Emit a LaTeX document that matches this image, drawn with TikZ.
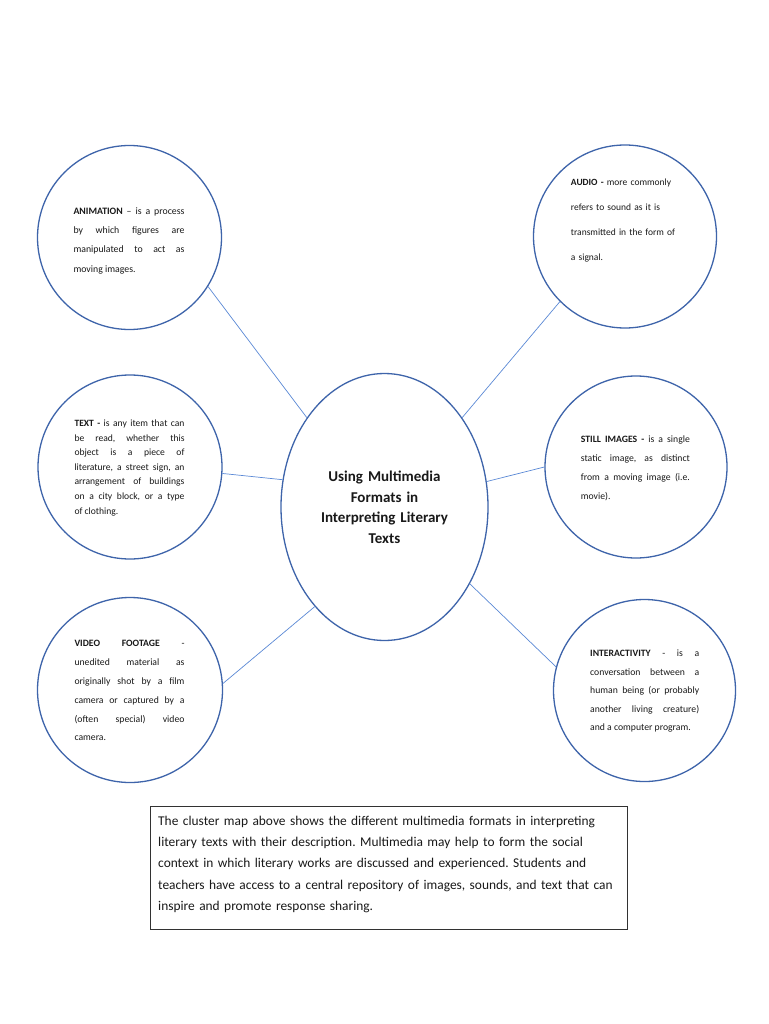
\documentclass[tikz,border=0pt]{standalone}
\usepackage{fontspec}
\setmainfont{Carlito}
\frenchspacing
\definecolor{circblue}{RGB}{62,100,170}
\definecolor{lineblue}{RGB}{91,137,214}
\definecolor{boxgray}{RGB}{50,50,50}
\definecolor{txt}{RGB}{25,25,25}
\usetikzlibrary{shapes.geometric}
\tikzset{
  bubble/.style={circle, draw=circblue, line width=1.3pt, inner sep=0pt, fill=white},
  hub/.style={ellipse, draw=circblue, line width=1.3pt, inner sep=0pt, fill=white},
  desc/.style={anchor=base west, inner sep=0pt, text width=#1, align=justify, text=txt},
  link/.style={draw=lineblue, line width=0.7pt},
}
\begin{document}
\begin{tikzpicture}[x=1pt,y=-1pt]
\useasboundingbox (0,0) rectangle (768,1024);
\fill[white] (0,0) rectangle (768,1024);

% bubbles
\node[bubble, minimum size=184pt] (anim) at (129.5,237.5) {};
\node[bubble, minimum size=183pt] (audio) at (625,236.5) {};
\node[bubble, minimum size=184pt] (text) at (130,467) {};
\node[bubble, minimum size=182pt] (still) at (636,467) {};
\node[bubble, minimum size=185pt] (video) at (130,690) {};
\node[bubble, minimum size=182pt] (inter) at (644.5,690.5) {};
\node[hub, minimum width=207pt, minimum height=267pt] (ctr) at (384.5,507) {};

% connectors
\draw[link] (anim.-32) -- (ctr.131);
\draw[link] (audio.225) -- (ctr.49);
\draw[link] (text.-4) -- (ctr.165);
\draw[link] (still.180) -- (ctr.14);
\draw[link] (video.4) -- (ctr.-125);
\draw[link] (inter.165) -- (ctr.-42);

% descriptions
\node[desc=111pt, font=\fontsize{9.8}{19.3}\selectfont] (animt) at (73.3,214.2) {%
\textbf{ANIMATION} – is a process\linebreak by which figures are\linebreak manipulated to act as\linebreak moving images.};

\node[anchor=base west, inner sep=0pt, text width=130pt, align=left, text=txt, font=\fontsize{9.5}{25}\selectfont] (audiot) at (570.7,185.4) {%
\textbf{AUDIO -} more commonly\\ refers to sound as it is\\ transmitted in the form of\\ a signal.};

\node[desc=110pt, font=\fontsize{9.6}{14.6}\selectfont] (textt) at (74.3,426.4) {%
\textbf{TEXT -} is any item that can\linebreak be read, whether this\linebreak object is a piece of\linebreak literature, a street sign, an\linebreak arrangement of buildings\linebreak on a city block, or a type\linebreak of clothing.};

\node[desc=109pt, font=\fontsize{9.7}{18.9}\selectfont] (stillt) at (580.7,442.4) {%
\textbf{STILL IMAGES -} is a single\linebreak static image, as distinct\linebreak from a moving image (i.e.\linebreak movie).};

\node[desc=110pt, font=\fontsize{9.7}{18.9}\selectfont] (videot) at (74.3,646.4) {%
\textbf{VIDEO FOOTAGE} -\linebreak unedited material as\linebreak originally shot by a film\linebreak camera or captured by a\linebreak (often special) video\linebreak camera.};

\node[desc=109pt, font=\fontsize{9.7}{18.6}\selectfont] (intert) at (590,656.4) {%
\textbf{INTERACTIVITY} - is a\linebreak conversation between a\linebreak human being (or probably\linebreak another living creature)\linebreak and a computer program.};

% hub title
\node[anchor=base, inner sep=0pt, text width=180pt, align=center, text=txt, font=\bfseries\fontsize{15}{20.6}\selectfont] (title) at (384.5,481.5) {%
Using Multimedia\\ Formats in\\ Interpreting Literary\\ Texts};

% bottom box
\node[draw=boxgray, line width=0.9pt, minimum width=477pt, minimum height=123pt, inner sep=0pt, anchor=north west] (box) at (150,806) {};
\node[anchor=base west, inner sep=0pt, text width=465pt, align=left, text=txt, font=\fontsize{13.4}{21.3}\selectfont] (boxt) at (158,825.3) {%
The cluster map above shows the different multimedia formats in interpreting\\
literary texts with their description. Multimedia may help to form the social\\
context in which literary works are discussed and experienced. Students and\\
teachers have access to a central repository of images, sounds, and text that can\\
inspire and promote response sharing.};
\end{tikzpicture}
\end{document}
